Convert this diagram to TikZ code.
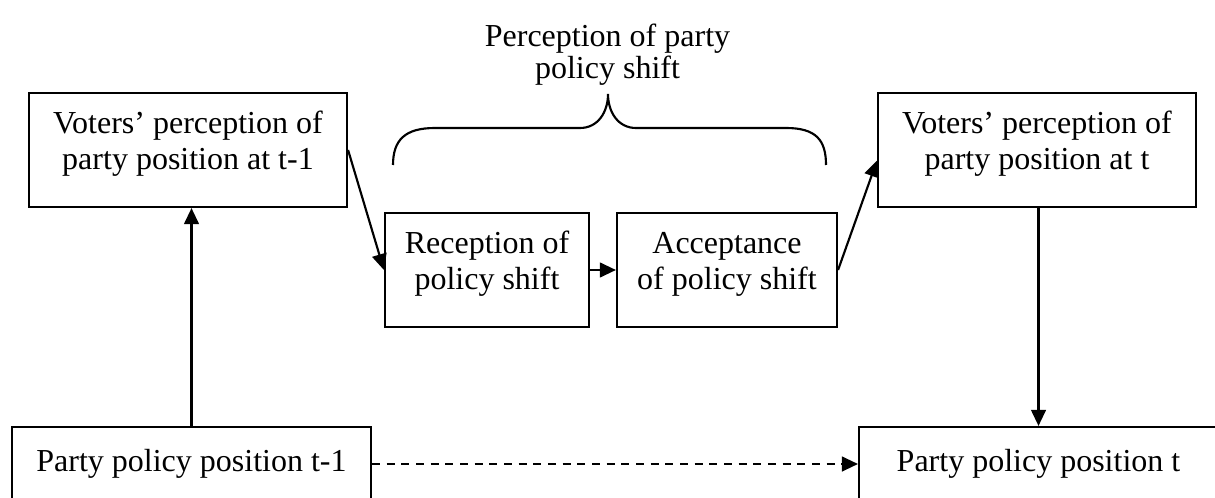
\documentclass[tikz,border=0pt]{standalone}
\usepackage{fontspec}
\setmainfont{Liberation Serif}
\usetikzlibrary{arrows.meta}

\begin{document}
\begin{tikzpicture}[x=0.375pt, y=-0.375pt, thick, >={Triangle[length=6pt, width=5.5pt]},
    font=\fontsize{12}{13.5}\selectfont,
    main/.style = {draw, rectangle, align=center, inner sep=0pt, minimum height=42.75pt, text depth=7pt},
    low/.style = {draw, rectangle, inner sep=0pt, minimum width=134.6pt, minimum height=27.75pt}]
    % Ritaglio del foglio
    \clip (0,0) rectangle (1215,498);

    % Disegna i riquadri
    \node[main, minimum width=119.25pt] (vt1) at (188,150) {Voters’ perception of\\party position at t-1};
    \node[main, minimum width=119.25pt] (vt) at (1037,150) {Voters’ perception of\\party position at t};
    \node[main, minimum width=76.5pt] (rec) at (487,270) {Reception of\\policy shift};
    \node[main, minimum width=82.5pt] (acc) at (727,270) {Acceptance\\of policy shift};
    \node[low] (pt1) at (191.5,464) {Party policy position t-1};
    \node[low] (pt) at (1038.5,464) {Party policy position t};

    % Graffa e titolo
    \node[align=center, font=\fontsize{12}{12}\selectfont] (shift) at (607.5,55) {Perception of party\\policy shift};
    \draw (393,165) .. controls (393,140) and (405,128) .. (435,128) -- (580,128)
        .. controls (598,128) and (608,112) .. (608,94)
        .. controls (608,112) and (618,128) .. (636,128) -- (786,128)
        .. controls (816,128) and (826,140) .. (826,165);

    % Disegna le frecce
    \draw[->] (pt1) -- (pt1 |- vt1.south);
    \draw[->] (vt1.east) -- (rec.west);
    \draw[->] (rec) -- (acc);
    \draw[->] (acc.east) -- ([yshift=-4pt]vt.west);
    \draw[->] (pt |- vt.south) -- (pt);
    \draw[->, dash pattern=on 3pt off 2.5pt] (pt1) -- (pt);

\end{tikzpicture}
\end{document}
